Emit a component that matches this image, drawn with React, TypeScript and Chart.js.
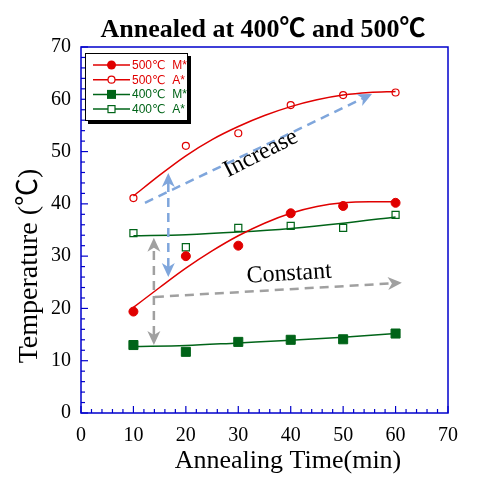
import React, { useEffect, useRef } from 'react';
import { Chart, registerables } from 'chart.js';
Chart.register(...registerables);

// ---- data ----
const times = [10, 20, 30, 40, 50, 60];
const m500 = [19.4, 30.0, 32.0, 38.2, 39.6, 40.2];
const a500 = [41.1, 51.1, 53.5, 58.9, 60.8, 61.3];
const m400 = [13.0, 11.7, 13.6, 14.0, 14.1, 15.2];
const a400 = [34.4, 31.7, 35.4, 35.8, 35.4, 37.9];

const fitTimesRed = [10, 15, 20, 25, 30, 35, 40, 45, 50, 55, 60];
const fitM500 = [20.2, 24.0, 27.7, 31.0, 33.9, 36.3, 38.2, 39.5, 40.2, 40.4, 40.4];
const fitA500 = [41.5, 45.5, 49.2, 52.3, 54.8, 56.9, 58.6, 59.9, 60.8, 61.3, 61.5];
const fitTimesGreen = [10, 20, 30, 40, 50, 60];
const fitM400 = [12.7, 12.9, 13.4, 13.9, 14.5, 15.2];
const fitA400 = [33.9, 34.1, 34.6, 35.3, 36.3, 37.5];

const xTickLabels = ['0', '10', '20', '30', '40', '50', '60', '70'];
const yTickLabels = ['0', '10', '20', '30', '40', '50', '60', '70'];
const legendLabels = ['500℃  M*', '500℃  A*', '400℃  M*', '400℃  A*'];

const titleText = 'Annealed at 400℃ and 500℃';
const xTitleText = 'Annealing Time(min)';
const yTitleText = 'Temperature (℃)';

// annotation arrows in data coordinates
const increaseArrow = { x1: 12.2, y1: 40.2, x2: 55.5, y2: 61.0 };
const blueVertArrow = { x1: 16.65, y1: 26.0, x2: 16.65, y2: 45.9 };
const constantArrow = { x1: 14.1, y1: 22.2, x2: 61.2, y2: 24.9 };
const greyVertArrow = { x1: 13.9, y1: 13.0, x2: 13.9, y2: 33.5 };
const increaseLabel = { text: 'Increase', x: 34.3, y: 49.6, angle: -27 };
const constantLabel = { text: 'Constant', x: 39.7, y: 26.6, angle: -3.5 };

const RED = '#e00000';
const GREEN = '#006418';
const BLUE_AXIS = '#0000cc';
const ARROW_BLUE = '#7fa6dc';
const ARROW_GREY = '#a0a0a0';
const SERIF = "'Liberation Serif', 'Times New Roman', 'Noto Sans CJK SC', serif";
const SANS = "'Liberation Sans', Arial, 'DejaVu Sans', sans-serif";

const pts = (xs: number[], ys: number[]) => xs.map((x, i) => ({ x, y: ys[i] }));

function drawMarker(ctx: CanvasRenderingContext2D, kind: number, x: number, y: number) {
  ctx.save();
  ctx.lineWidth = 1.2;
  if (kind === 0) {
    ctx.fillStyle = RED; ctx.strokeStyle = RED;
    ctx.beginPath(); ctx.arc(x, y, 4.5, 0, Math.PI * 2); ctx.fill();
  } else if (kind === 1) {
    ctx.fillStyle = '#fff'; ctx.strokeStyle = RED;
    ctx.beginPath(); ctx.arc(x, y, 3.5, 0, Math.PI * 2); ctx.fill(); ctx.stroke();
  } else if (kind === 2) {
    ctx.fillStyle = GREEN;
    ctx.fillRect(x - 4.5, y - 4.5, 9, 9);
  } else {
    ctx.fillStyle = '#fff'; ctx.strokeStyle = GREEN;
    ctx.fillRect(x - 3.5, y - 3.5, 7, 7);
    ctx.strokeRect(x - 3.5, y - 3.5, 7, 7);
  }
  ctx.restore();
}

function arrowHead(ctx: CanvasRenderingContext2D, fx: number, fy: number, tx: number, ty: number, color: string) {
  const ang = Math.atan2(ty - fy, tx - fx);
  ctx.save();
  ctx.translate(tx, ty);
  ctx.rotate(ang);
  ctx.beginPath();
  ctx.moveTo(0, 0);
  ctx.lineTo(-14, -6.5);
  ctx.lineTo(-10, 0);
  ctx.lineTo(-14, 6.5);
  ctx.closePath();
  ctx.fillStyle = color;
  ctx.fill();
  ctx.restore();
}

function drawArrow(chart: any, a: any, color: string, both: boolean) {
  const ctx: CanvasRenderingContext2D = chart.ctx;
  const xs = chart.scales.x, ys = chart.scales.y;
  const px1 = xs.getPixelForValue(a.x1), py1 = ys.getPixelForValue(a.y1);
  const px2 = xs.getPixelForValue(a.x2), py2 = ys.getPixelForValue(a.y2);
  const len = Math.hypot(px2 - px1, py2 - py1);
  const ux = (px2 - px1) / len, uy = (py2 - py1) / len;
  const s1 = both ? 10 : 0;
  ctx.save();
  ctx.strokeStyle = color;
  ctx.lineWidth = 2.5;
  ctx.setLineDash([9, 6]);
  ctx.beginPath();
  ctx.moveTo(px1 + ux * s1, py1 + uy * s1);
  ctx.lineTo(px2 - ux * 10, py2 - uy * 10);
  ctx.stroke();
  ctx.restore();
  arrowHead(ctx, px1, py1, px2, py2, color);
  if (both) arrowHead(ctx, px2, py2, px1, py1, color);
}

const decorPlugin = {
  id: 'decor',
  afterDatasetsDraw(chart: any) {
    drawArrow(chart, increaseArrow, ARROW_BLUE, false);
    drawArrow(chart, blueVertArrow, ARROW_BLUE, true);
    drawArrow(chart, constantArrow, ARROW_GREY, false);
    drawArrow(chart, greyVertArrow, ARROW_GREY, true);
  },
  afterDraw(chart: any) {
    const ctx: CanvasRenderingContext2D = chart.ctx;
    const { left, right, top, bottom } = chart.chartArea;
    const xs = chart.scales.x, ys = chart.scales.y;
    ctx.save();
    // frame
    ctx.strokeStyle = BLUE_AXIS;
    ctx.lineWidth = 1.5;
    ctx.strokeRect(left, top, right - left, bottom - top);
    // inner ticks
    ctx.lineWidth = 1.2;
    xs.ticks.forEach((t: any) => {
      const px = xs.getPixelForValue(t.value);
      const L = t.value % 10 === 0 ? 7 : 4;
      ctx.beginPath(); ctx.moveTo(px, bottom); ctx.lineTo(px, bottom - L); ctx.stroke();
    });
    ys.ticks.forEach((t: any) => {
      const py = ys.getPixelForValue(t.value);
      const L = t.value % 10 === 0 ? 7 : 4;
      ctx.beginPath(); ctx.moveTo(left, py); ctx.lineTo(left + L, py); ctx.stroke();
    });
    // labels
    const tx = (v: any, y: number, ang: number, text: string) => {
      ctx.save();
      ctx.translate(xs.getPixelForValue(v), ys.getPixelForValue(y));
      ctx.rotate(ang * Math.PI / 180);
      ctx.fillStyle = '#000';
      ctx.font = `24px ${SERIF}`;
      ctx.textAlign = 'center';
      ctx.textBaseline = 'middle';
      ctx.fillText(text, 0, 0);
      ctx.restore();
    };
    tx(increaseLabel.x, increaseLabel.y, increaseLabel.angle, increaseLabel.text);
    tx(constantLabel.x, constantLabel.y, constantLabel.angle, constantLabel.text);

    // title
    ctx.fillStyle = '#000';
    ctx.font = `bold 26px ${SERIF}`;
    ctx.textAlign = 'center';
    ctx.textBaseline = 'alphabetic';
    ctx.fillText(titleText, 263, 37);
    // x title
    ctx.font = `26px ${SERIF}`;
    ctx.fillText(xTitleText, 288, 468);
    // y title
    ctx.save();
    ctx.translate(37, 266);
    ctx.rotate(-Math.PI / 2);
    ctx.font = `28px ${SERIF}`;
    ctx.fillText(yTitleText, 0, 0);
    ctx.restore();

    // legend
    const lx = left + 4, ly = top + 6, lw = 103, lh = 68;
    ctx.fillStyle = '#000';
    ctx.fillRect(lx + 3, ly + 3, lw, lh);
    ctx.fillStyle = '#fff';
    ctx.fillRect(lx, ly, lw, lh);
    ctx.strokeStyle = '#000';
    ctx.lineWidth = 1;
    ctx.strokeRect(lx + 0.5, ly + 0.5, lw - 1, lh - 1);
    ctx.font = `12px ${SANS}`;
    ctx.textAlign = 'left';
    ctx.textBaseline = 'middle';
    legendLabels.forEach((lab, i) => {
      const y = ly + 12 + i * 14.7;
      const c = i < 2 ? RED : GREEN;
      ctx.strokeStyle = c;
      ctx.lineWidth = 1.5;
      ctx.beginPath(); ctx.moveTo(lx + 8, y); ctx.lineTo(lx + 45, y); ctx.stroke();
      drawMarker(ctx, i, lx + 26.5, y);
      ctx.fillStyle = c;
      ctx.fillText(lab, lx + 47, y + 0.5);
    });
    ctx.restore();
  },
};

export default function App() {
  const ref = useRef<HTMLCanvasElement>(null);
  useEffect(() => {
    const chart = new Chart(ref.current!, {
      type: 'line',
      data: {
        datasets: [
          { label: 'fitM500', data: pts(fitTimesRed, fitM500), borderColor: RED, borderWidth: 1.5, pointRadius: 0, cubicInterpolationMode: 'monotone', fill: false } as any,
          { label: 'fitA500', data: pts(fitTimesRed, fitA500), borderColor: RED, borderWidth: 1.5, pointRadius: 0, cubicInterpolationMode: 'monotone', fill: false } as any,
          { label: 'fitM400', data: pts(fitTimesGreen, fitM400), borderColor: GREEN, borderWidth: 1.5, pointRadius: 0, cubicInterpolationMode: 'monotone', fill: false } as any,
          { label: 'fitA400', data: pts(fitTimesGreen, fitA400), borderColor: GREEN, borderWidth: 1.5, pointRadius: 0, cubicInterpolationMode: 'monotone', fill: false } as any,
          { label: legendLabels[0], data: pts(times, m500), showLine: false, pointStyle: 'circle', pointRadius: 4.5, backgroundColor: RED, borderColor: RED, pointBorderWidth: 1 } as any,
          { label: legendLabels[1], data: pts(times, a500), showLine: false, pointStyle: 'circle', pointRadius: 3.5, backgroundColor: '#fff', borderColor: RED, pointBorderWidth: 1.2 } as any,
          { label: legendLabels[2], data: pts(times, m400), showLine: false, pointStyle: 'rect', pointRadius: 6.4, backgroundColor: GREEN, borderColor: GREEN, pointBorderWidth: 1 } as any,
          { label: legendLabels[3], data: pts(times, a400), showLine: false, pointStyle: 'rect', pointRadius: 5, backgroundColor: 'rgba(255,255,255,0)', borderColor: GREEN, pointBorderWidth: 1.2 } as any,
        ],
      },
      options: {
        animation: false,
        responsive: true,
        maintainAspectRatio: false,
        layout: { padding: { top: 47, right: 36, left: 0, bottom: 0 } },
        plugins: { legend: { display: false }, title: { display: false }, tooltip: { enabled: false } },
        scales: {
          x: {
            type: 'linear', min: 0, max: 70,
            grid: { display: false, drawTicks: false },
            border: { display: false },
            ticks: {
              stepSize: 2, autoSkip: false, maxRotation: 0, padding: 11,
              color: '#000', font: { family: SERIF, size: 20 },
              callback: (v: any) => (v % 10 === 0 ? xTickLabels[v / 10] : ''),
            },
            afterFit: (s: any) => { s.height = 68; },
          },
          y: {
            type: 'linear', min: 0, max: 70,
            grid: { display: false, drawTicks: false },
            border: { display: false },
            ticks: {
              stepSize: 2, autoSkip: false, padding: 10,
              color: '#000', font: { family: SERIF, size: 20 },
              callback: (v: any) => (v % 10 === 0 ? yTickLabels[v / 10] : ''),
            },
            afterFit: (s: any) => { s.width = 81; },
          },
        },
      },
      plugins: [decorPlugin],
    });
    return () => chart.destroy();
  }, []);
  return (
    <div style={{ position: 'absolute', left: 0, top: 0, width: 484, height: 481, background: '#fff' }}>
      <canvas ref={ref} />
    </div>
  );
}
